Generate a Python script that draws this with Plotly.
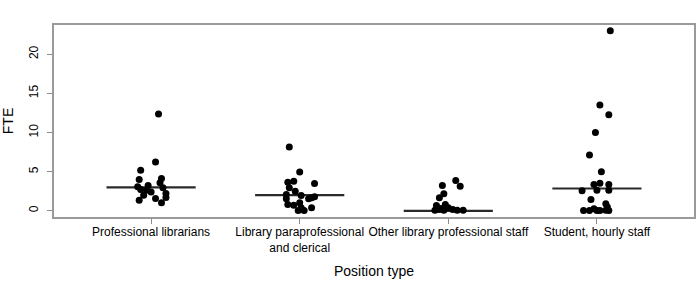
import plotly.graph_objects as go

categories = ["Professional librarians", "Library paraprofessional<br>and clerical",
              "Other library professional staff", "Student, hourly staff"]

# FTE values per group and horizontal jitter offsets
fte_prof = [12.36, 6.24, 5.17, 3.99, 3.06, 2.71, 3.22, 2.62, 1.99, 1.35, 4.11, 3.57, 2.93, 2.2, 1.69, 1.57, 1.02, 2.4]
jit_prof = [0.05, 0.03, -0.07, -0.08, -0.09, -0.07, -0.02, -0.03, -0.05, -0.08, 0.07, 0.06, 0.08, 0.10, 0.10, 0.03, 0.07, 0.0]

fte_para = [8.15, 4.97, 3.65, 3.77, 3.48, 2.93, 2.5, 2.08, 1.95, 1.66, 1.78, 1.53, 0.80, 0.71, 1.02, 0.38, 0.04, 0.04, 0.38, 1.53]
jit_para = [-0.07, 0.0, -0.08, -0.04, 0.10, -0.07, -0.03, -0.09, 0.01, 0.08, 0.10, -0.09, -0.08, -0.04, 0.0, 0.01, -0.01, 0.03, 0.08, 0.06]

fte_other = [3.86, 3.14, 3.22, 2.17, 1.66, 0.68, 0.80, 0.08, 0.17, 0.38, 0.17, 0.08, 0.08, 0.08, 0.3]
jit_other = [0.05, 0.08, -0.04, -0.03, -0.06, -0.08, -0.02, -0.09, -0.06, 0.0, 0.03, 0.06, 0.10, -0.03, -0.05]

fte_student = [23.0, 13.5, 12.27, 10.0, 7.13, 5.0, 3.35, 3.52, 3.35, 2.55, 2.62, 2.62, 1.44, 0.89, 0.04, 0.04, 0.25, 0.04, 0.04, 0.08, 0.04, 0.5]
jit_student = [0.09, 0.02, 0.08, -0.01, -0.05, 0.03, -0.02, 0.02, 0.08, -0.10, 0.0, 0.08, -0.04, 0.06, -0.09, -0.05, -0.02, 0.0, 0.02, 0.06, 0.08, 0.07]

medians = [3.0, 2.0, 0.0, 2.85]

groups = [(fte_prof, jit_prof), (fte_para, jit_para), (fte_other, jit_other), (fte_student, jit_student)]

fig = go.Figure()

# median lines
mx, my = [], []
for i, m in enumerate(medians):
    mx += [i - 0.3, i + 0.3, None]
    my += [m, m, None]
fig.add_trace(go.Scatter(x=mx, y=my, mode="lines", line=dict(color="#2a2a2a", width=2.2),
                         showlegend=False, hoverinfo="skip"))

for i, (vals, jit) in enumerate(groups):
    fig.add_trace(go.Scatter(x=[i + j for j in jit], y=vals, mode="markers",
                             marker=dict(color="black", size=7), showlegend=False))

FONT = "Liberation Sans, Arial, sans-serif"
axis_common = dict(showgrid=False, zeroline=False, showline=False, ticks="outside",
                   ticklen=5, tickcolor="#8c8c8c", tickwidth=1,
                   tickfont=dict(family=FONT, size=12, color="black"))

fig.update_xaxes(range=[-0.66, 3.66], tickmode="array", tickvals=[0, 1, 2, 3], ticktext=categories,
                 ticklabelstandoff=-2,
                 title=dict(text="Position type", font=dict(family=FONT, size=14, color="black"),
                            standoff=12),
                 **axis_common)
fig.update_yaxes(range=[-0.92, 23.86], tickmode="array", tickvals=[0, 5, 10, 15, 20],
                 tickangle=-90, ticklabelstandoff=4,
                 title=dict(text="FTE", font=dict(family=FONT, size=14, color="black"),
                            standoff=10),
                 **axis_common)

fig.add_shape(type="rect", xref="paper", yref="paper", x0=0, y0=0, x1=1, y1=1,
              line=dict(color="#9a9a9a", width=2))

fig.update_layout(width=700, height=287, margin=dict(l=53, r=5, t=24, b=69),
                  plot_bgcolor="white", paper_bgcolor="white",
                  font=dict(family=FONT))

fig.write_html("out.html")
